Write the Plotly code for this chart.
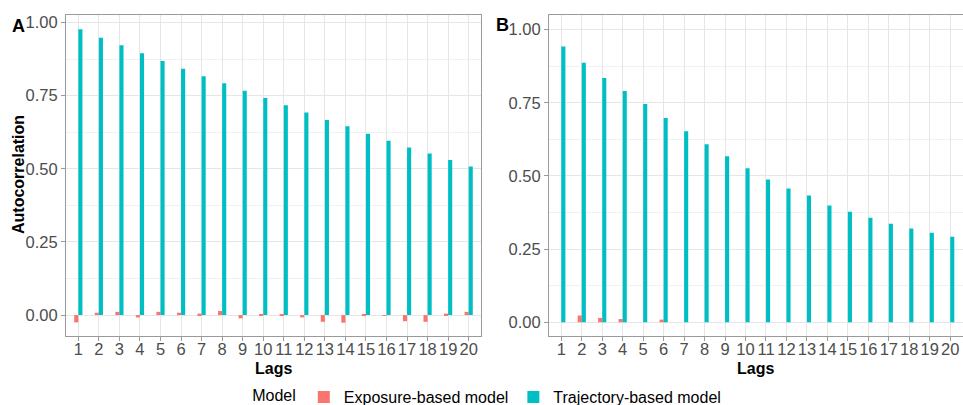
import plotly.graph_objects as go

lags = list(range(1, 21))

# Panel A
exposure_a = [-0.025, 0.008, 0.011, -0.008, 0.011, 0.008, 0.005, 0.014, -0.011, 0.002,
              0.002, -0.008, -0.023, -0.026, 0.002, -0.003, -0.021, -0.023, 0.005, 0.011]
trajectory_a = [0.977, 0.948, 0.922, 0.895, 0.868, 0.842, 0.816, 0.792, 0.767, 0.742,
                0.717, 0.692, 0.667, 0.645, 0.620, 0.596, 0.573, 0.552, 0.530, 0.508]

# Panel B
exposure_b = [0.0, 0.023, 0.015, 0.011, 0.0, 0.009, 0.0, 0.0, 0.0, 0.0,
              0.0, 0.0, 0.0, 0.0, 0.0, 0.0, 0.0, 0.0, 0.0, 0.0]
trajectory_b = [0.942, 0.887, 0.835, 0.790, 0.746, 0.698, 0.653, 0.608, 0.567, 0.526,
                0.488, 0.457, 0.433, 0.399, 0.378, 0.357, 0.337, 0.320, 0.306, 0.292]

y_ticks = [0.0, 0.25, 0.5, 0.75, 1.0]
y_tick_labels = ["0.00", "0.25", "0.50", "0.75", "1.00"]

series_names = ["Exposure-based model", "Trajectory-based model"]
colors = ["#F8766D", "#00BFC4"]

W, H = 963, 405
FONT = "Liberation Sans, Arial, sans-serif"

fig = go.Figure()

panels = [(exposure_a, trajectory_a, "x", "y"), (exposure_b, trajectory_b, "x2", "y2")]
for i, (exp_vals, traj_vals, xa, ya) in enumerate(panels):
    for j, vals in enumerate([exp_vals, traj_vals]):
        fig.add_trace(go.Bar(
            x=lags, y=vals, name=series_names[j], marker_color=colors[j],
            marker_line_width=0, offsetgroup=str(j), legendgroup=series_names[j],
            showlegend=(i == 0), xaxis=xa, yaxis=ya,
        ))

axis_common = dict(
    showline=True, mirror=True, linecolor="#9A9A9A", linewidth=1,
    ticks="outside", ticklen=4, tickcolor="#9A9A9A",
    tickfont=dict(family=FONT, size=16.5, color="#4D4D4D"),
    showgrid=True, gridcolor="#E6E6E6", gridwidth=1, zeroline=False,
    automargin=False,
)

ax_dom_a = [66 / W, 481 / W]
ax_dom_b = [549 / W, 0.9995]

fig.update_layout(
    width=W, height=H,
    margin=dict(l=0, r=0, t=15, b=69, autoexpand=False),
    plot_bgcolor="white", paper_bgcolor="white",
    barmode="group", bargap=0.6, bargroupgap=0.0,
    font=dict(family=FONT, size=16, color="black"),
    xaxis=dict(domain=ax_dom_a, range=[0.4, 20.6], tickmode="array", tickvals=lags,
               ticktext=[str(v) for v in lags], anchor="y", ticklabelstandoff=-6, **axis_common),
    yaxis=dict(domain=[0, 1], range=[-0.0715, 1.0255], tickmode="array", tickvals=y_ticks,
               ticktext=y_tick_labels, anchor="x",
               minor=dict(dtick=0.125, tick0=0.125, showgrid=True, gridcolor="#F1F1F1", gridwidth=0.6, ticks=""),
               **axis_common),
    xaxis2=dict(domain=ax_dom_b, range=[0.4, 20.6], tickmode="array", tickvals=lags,
                ticktext=[str(v) for v in lags], anchor="y2", ticklabelstandoff=-6, **axis_common),
    yaxis2=dict(domain=[0, 1], range=[-0.047, 1.05], tickmode="array", tickvals=y_ticks,
                ticktext=y_tick_labels, anchor="x2",
                minor=dict(dtick=0.125, tick0=0.125, showgrid=True, gridcolor="#F1F1F1", gridwidth=0.6, ticks=""),
                **axis_common),
    legend=dict(orientation="h", x=0.507, xanchor="center", y=-0.19, yanchor="middle",
                title=dict(text="Model", side="left", font=dict(family=FONT, size=16, color="black")),
                font=dict(family=FONT, size=16, color="black"),
                itemwidth=30, traceorder="normal"),
)

plot_h = H - 15 - 69

def py(pix):
    # convert pixel y (from top) to paper coordinate
    return (H - 69 - pix) / plot_h

annotations = [
    dict(text="<b>Lags</b>", x=(ax_dom_a[0] + ax_dom_a[1]) / 2, y=py(368), xref="paper", yref="paper",
         showarrow=False, font=dict(family=FONT, size=16, color="black"), xanchor="center", yanchor="middle"),
    dict(text="<b>Lags</b>", x=(ax_dom_b[0] + ax_dom_b[1]) / 2, y=py(368), xref="paper", yref="paper",
         showarrow=False, font=dict(family=FONT, size=16, color="black"), xanchor="center", yanchor="middle"),
    dict(text="<b>Autocorrelation</b>", x=18 / W, y=py(175), xref="paper", yref="paper", textangle=-90,
         showarrow=False, font=dict(family=FONT, size=16, color="black"), xanchor="center", yanchor="middle"),
    dict(text="<b>A</b>", x=18 / W, y=py(26), xref="paper", yref="paper",
         showarrow=False, font=dict(family=FONT, size=18, color="black"), xanchor="center", yanchor="middle"),
    dict(text="<b>B</b>", x=502 / W, y=py(25), xref="paper", yref="paper",
         showarrow=False, font=dict(family=FONT, size=18, color="black"), xanchor="center", yanchor="middle"),
]
fig.update_layout(annotations=annotations)

fig.write_html("out.html", config={"displayModeBar": False},
               post_script="document.body.style.margin='0';document.body.style.overflow='hidden';")
